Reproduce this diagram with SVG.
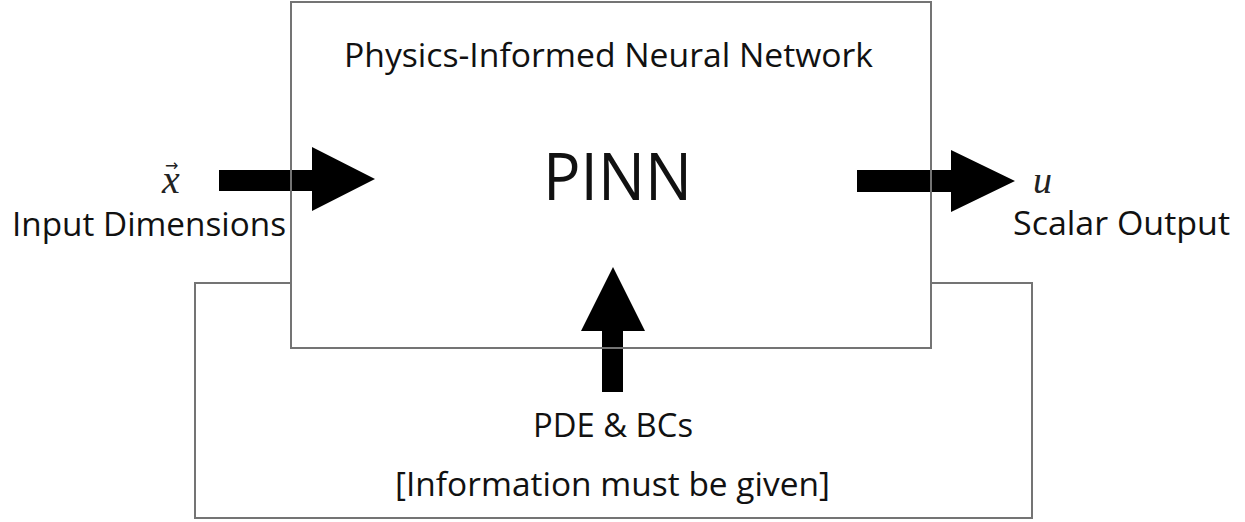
<svg xmlns="http://www.w3.org/2000/svg" width="1245" height="522" viewBox="0 0 1245 522">
  <style>
    .frame { fill: none; stroke: #747474; stroke-width: 2; }
    .arrow { fill: #000; stroke: none; }
    .lbl { font-family: "Open Sans", "Noto Sans", "Liberation Sans", sans-serif; fill: #111; }
    .math { font-family: "Liberation Serif", "DejaVu Serif", serif; font-style: italic; fill: #222; }
    .accent { font-family: "DejaVu Sans", "Liberation Sans", sans-serif; font-style: normal; }
  </style>
  <rect width="1245" height="522" fill="#fff"/>

  <!-- block arrows (drawn beneath the frames so the frame lines cross them) -->
  <g id="connectors">
    <polygon id="arrow-in" class="arrow" points="219,170 312,170 312,147 375,179 312,211 312,191 219,191"/>
    <polygon id="arrow-out" class="arrow" points="857,170 951,170 951,150 1015,181 951,212 951,192 857,192"/>
    <polygon id="arrow-pde" class="arrow" points="602,392 602,331 581,331 613,267 645,331 623,331 623,392"/>
  </g>

  <!-- main network block -->
  <g id="pinn">
    <rect class="frame" x="291" y="2" width="640" height="346"/>
    <text class="lbl" x="344" y="67" font-size="32" textLength="529" lengthAdjust="spacingAndGlyphs">Physics-Informed Neural Network</text>
    <text class="lbl" x="543" y="200" font-size="66" textLength="149" lengthAdjust="spacingAndGlyphs">PINN</text>
  </g>

  <!-- constraint frame underneath -->
  <g id="constraints">
    <path class="frame" d="M291,283 H195 V518 H1032 V283 H931"/>
    <text class="lbl" x="533" y="437" font-size="32" textLength="160" lengthAdjust="spacingAndGlyphs">PDE &amp; BCs</text>
    <text class="lbl" x="395" y="496" font-size="32" textLength="435" lengthAdjust="spacingAndGlyphs">[Information must be given]</text>
  </g>

  <!-- input label: vector x, accent arrow set above the letter -->
  <g id="input">
    <text class="math" font-size="40"><tspan x="162" y="193">x</tspan><tspan class="accent" x="165" y="171" font-size="16">→</tspan></text>
    <text class="lbl" x="12" y="236" font-size="32" textLength="274" lengthAdjust="spacingAndGlyphs">Input Dimensions</text>
  </g>

  <!-- output label -->
  <g id="output">
    <text class="math" x="1033" y="193" font-size="38">u</text>
    <text class="lbl" x="1013" y="235" font-size="32" textLength="217" lengthAdjust="spacingAndGlyphs">Scalar Output</text>
  </g>
</svg>
